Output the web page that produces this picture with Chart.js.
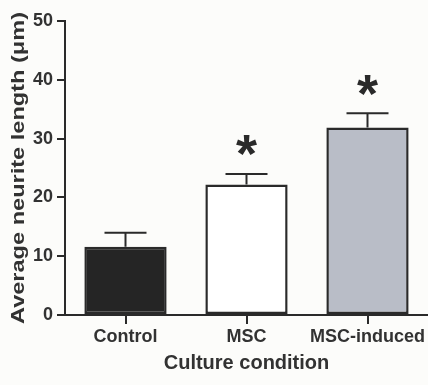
<!DOCTYPE html>
<html>
<head>
<meta charset="utf-8">
<script src="https://cdn.jsdelivr.net/npm/chart.js@4.4.1/dist/chart.umd.min.js"></script>
<style>
  html, body { margin: 0; padding: 0; background: #fcfcfa; }
  #wrap { width: 428px; height: 385px; }
</style>
</head>
<body>
<div id="wrap"><canvas id="c"></canvas></div>
<script>
// neurite outgrowth per culture condition (mean + SEM)
var categories = ["Control", "MSC", "MSC-induced"];
var meanLength = [11.6, 22.2, 31.9];
var semLength = [2.4, 1.8, 2.4];
var significant = [false, true, true];
var yTicks = [0, 10, 20, 30, 40, 50];
var barFill = ["#252525", "#ffffff", "#b9bdc7"];

var ink = "#2a2a2a";
var textInk = "#323232";
var sans = "'Liberation Sans', Arial, sans-serif";
var narrow = "'Liberation Sans Narrow', 'Arial Narrow', 'Liberation Sans', sans-serif";
var yTitle = "Average neurite length (\u03bcm)";

// upper whisker + cap, and a star over significant bars
var errorBars = {
  id: "errorBars",
  afterDatasetsDraw: function(chart) {
    var ctx = chart.ctx;
    var y = chart.scales.y;
    var meta = chart.getDatasetMeta(0);
    ctx.save();
    ctx.strokeStyle = ink;
    ctx.lineWidth = 2;
    meta.data.forEach(function(bar, i) {
      var top = y.getPixelForValue(meanLength[i]);
      var cap = y.getPixelForValue(meanLength[i] + semLength[i]);
      ctx.beginPath();
      ctx.moveTo(bar.x, top);
      ctx.lineTo(bar.x, cap);
      ctx.moveTo(bar.x - 21, cap);
      ctx.lineTo(bar.x + 21, cap);
      ctx.stroke();
      if (significant[i]) {
        ctx.fillStyle = ink;
        ctx.font = "bold 54px " + sans;
        ctx.textAlign = "center";
        ctx.textBaseline = "alphabetic";
        var m = ctx.measureText("*");
        var mid = cap - 28;
        var base = mid + (m.actualBoundingBoxAscent - m.actualBoundingBoxDescent) / 2;
        ctx.fillText("*", bar.x, base);
      }
    });
    ctx.restore();
  }
};

// tall rotated y title, stretched along its length
var yAxisTitle = {
  id: "yAxisTitle",
  afterDraw: function(chart) {
    var ctx = chart.ctx;
    ctx.save();
    ctx.font = "bold 19px " + sans;
    ctx.fillStyle = textInk;
    ctx.textAlign = "center";
    ctx.textBaseline = "middle";
    var w = ctx.measureText(yTitle).width;
    ctx.translate(19, 168);
    ctx.rotate(-Math.PI / 2);
    ctx.scale(312 / w, 1);
    ctx.fillText(yTitle, 0, 0);
    ctx.restore();
  }
};

var chart = new Chart(document.getElementById("c"), {
  type: "bar",
  data: {
    labels: categories,
    datasets: [{
      data: meanLength,
      backgroundColor: barFill,
      borderColor: ink,
      borderWidth: 2.5,
      borderSkipped: false,
      barPercentage: 0.68,
      categoryPercentage: 1
    }]
  },
  options: {
    responsive: true,
    maintainAspectRatio: false,
    animation: false,
    layout: { padding: { top: 21, right: 0, left: 0, bottom: 0 } },
    plugins: {
      legend: { display: false },
      tooltip: { enabled: false }
    },
    scales: {
      x: {
        afterFit: function(s) { s.height = 70; },
        grid: { offset: false, drawOnChartArea: false, drawTicks: true, tickLength: 9, color: ink, lineWidth: 2 },
        border: { display: true, color: ink, width: 2 },
        ticks: { color: textInk, font: { family: sans, size: 18, weight: "bold" }, padding: 2 },
        title: { display: true, text: "Culture condition", color: textInk,
                 font: { family: sans, size: 20, weight: "bold" }, padding: { top: 0, bottom: 10 } }
      },
      y: {
        min: 0,
        max: 50,
        afterFit: function(s) { s.width = 65; },
        afterBuildTicks: function(s) { s.ticks = yTicks.map(function(v) { return { value: v }; }); },
        ticks: { color: textInk, font: { family: narrow, size: 18, weight: "bold" }, padding: 4 },
        grid: { drawOnChartArea: false, drawTicks: true, tickLength: 8, color: ink, lineWidth: 2 },
        border: { display: true, color: ink, width: 2 }
      }
    }
  },
  plugins: [errorBars, yAxisTitle]
});
</script>
</body>
</html>
